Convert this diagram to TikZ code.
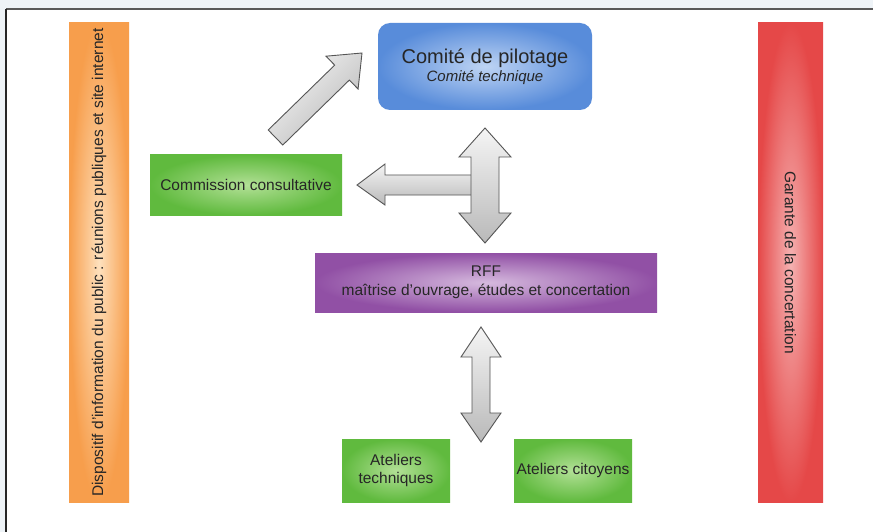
\documentclass[tikz,border=0pt]{standalone}
\usepackage{fontspec}
\setmainfont{Liberation Sans}
\definecolor{orangeout}{RGB}{247,158,76}
\definecolor{orangein}{RGB}{254,225,190}
\begin{document}
\begin{tikzpicture}[x=1pt,y=-1pt,
  txt/.style={text=black!85, font=\fontsize{15.5}{18.5}\selectfont, align=center},
  box/.style={txt, inner sep=0pt, draw=none},
  redbox/.style={box, inner color={rgb,255:red,245;green,178;blue,178}, outer color={rgb,255:red,229;green,72;blue,72}},
  bluebox/.style={box, rounded corners=12pt, inner color={rgb,255:red,190;green,212;blue,244}, outer color={rgb,255:red,88;green,140;blue,218}},
  greenbox/.style={box, inner color={rgb,255:red,178;green,224;blue,150}, outer color={rgb,255:red,96;green,186;blue,62}},
  purplebox/.style={box, inner color={rgb,255:red,214;green,186;blue,222}, outer color={rgb,255:red,145;green,80;blue,165}},
  blockarrow/.style={draw={rgb,255:red,85;green,85;blue,85}, line width=0.9pt, line join=miter, top color=gray!8, bottom color=gray!55},
]
\path[use as bounding box, fill={rgb,255:red,238;green,243;blue,247}] (0,0) rectangle (873,532);
\fill[white] (6,9) rectangle (873,532);
\draw[gray!70!black, line width=1.2pt] (6,9) -- (873,9);
\draw[black!85, line width=2pt] (6,9) -- (6,532);

% side bars
\shade[inner color=orangein, outer color=orangeout] (69,23) rectangle (129,502);
\node[box, minimum width=60pt, minimum height=479pt] (info) at (99,262.5) {};
\node[txt, rotate=90] (infotxt) at (info.center) {Dispositif d'information du public : réunions publiques et site internet};
\node[redbox, minimum width=65pt, minimum height=479pt] (garante) at (790.5,262.5) {};
\node[txt, rotate=-90] (garantetxt) at (garante.center) {Garante de la concertation};

% boxes
\node[bluebox, minimum width=214pt, minimum height=87pt] (copil) at (485,66.5)
  {{\fontsize{20}{23}\selectfont Comité de pilotage}\\[-1pt]{\fontsize{15}{17}\selectfont\itshape Comité technique}};
\node[greenbox, minimum width=192pt, minimum height=60pt] (commission) at (246,185) {Commission consultative};
\node[purplebox, minimum width=342pt, minimum height=59pt] (rff) at (486,282.5) {RFF\\maîtrise d'ouvrage, études et concertation};
\node[greenbox, minimum width=108pt, minimum height=63pt] (atech) at (396,470.5) {Ateliers\\techniques};
\node[greenbox, minimum width=118pt, minimum height=63pt] (acit) at (573,470.5) {Ateliers citoyens};

% diagonal arrow (commission -> comite)
\draw[blockarrow, shading angle=45]
  (268.2,130) -- (334.7,65.1) -- (325.9,56.2) -- (362,53) -- (358.1,89) -- (349.3,80.1) -- (282.8,145) -- cycle;

% horizontal arrow towards commission
\draw[blockarrow]
  (485,175) -- (385,175) -- (385,164) -- (357,185) -- (385,205) -- (385,195) -- (485,195) -- cycle;

% vertical double arrow comite <-> RFF
\draw[blockarrow]
  (485,128) -- (511,157) -- (499,157) -- (499,213) -- (511,213) -- (485,243) -- (459,213) -- (471,213)
  -- (471,157) -- (459,157) -- cycle;

% lower double arrow RFF <-> ateliers
\draw[blockarrow]
  (481,327) -- (501,357) -- (490,357) -- (490,413) -- (501,413) -- (481,442) -- (461,413) -- (472,413)
  -- (472,357) -- (461,357) -- cycle;
\end{tikzpicture}
\end{document}
